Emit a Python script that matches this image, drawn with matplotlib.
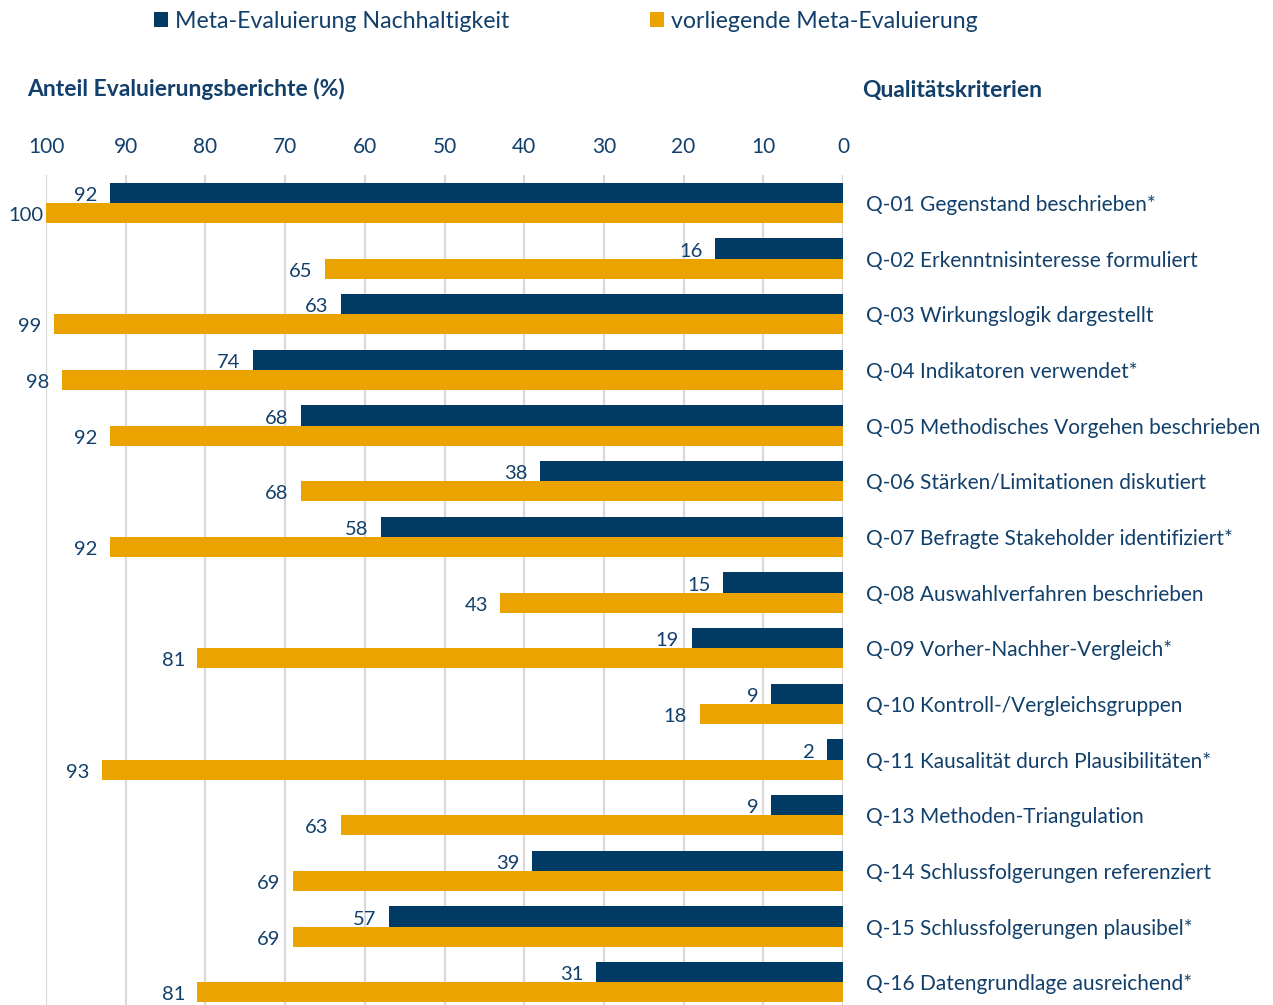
import matplotlib.pyplot as plt
import numpy as np

plt.rcParams['font.family'] = ['Lato', 'DejaVu Sans']

criteria = [
    'Q-01 Gegenstand beschrieben*',
    'Q-02 Erkenntnisinteresse formuliert',
    'Q-03 Wirkungslogik dargestellt',
    'Q-04 Indikatoren verwendet*',
    'Q-05 Methodisches Vorgehen beschrieben',
    'Q-06 Stärken/Limitationen diskutiert',
    'Q-07 Befragte Stakeholder identifiziert*',
    'Q-08 Auswahlverfahren beschrieben',
    'Q-09 Vorher-Nachher-Vergleich*',
    'Q-10 Kontroll-/Vergleichsgruppen',
    'Q-11 Kausalität durch Plausibilitäten*',
    'Q-13 Methoden-Triangulation',
    'Q-14 Schlussfolgerungen referenziert',
    'Q-15 Schlussfolgerungen plausibel*',
    'Q-16 Datengrundlage ausreichend*',
]
nachhaltigkeit = [92, 16, 63, 74, 68, 38, 58, 15, 19, 9, 2, 9, 39, 57, 31]
vorliegend = [100, 65, 99, 98, 92, 68, 92, 43, 81, 18, 93, 63, 69, 69, 81]
series_names = ['Meta-Evaluierung Nachhaltigkeit', 'vorliegende Meta-Evaluierung']
xticks = [100, 90, 80, 70, 60, 50, 40, 30, 20, 10, 0]

navy = '#013B63'
gold = '#EAA300'
txt = '#12406A'
W, H = 1273, 1005

fig = plt.figure(figsize=(W / 100, H / 100), dpi=100)
ax = fig.add_axes([46 / W, 0, (843 - 46) / W, (H - 175) / H])

y = np.arange(len(criteria))
bh = 0.36
b1 = ax.barh(y - bh / 2, nachhaltigkeit, height=bh, color=navy, label=series_names[0], zorder=3)
b2 = ax.barh(y + bh / 2, vorliegend, height=bh, color=gold, label=series_names[1], zorder=3)

for vals, offs in ((nachhaltigkeit, -bh / 2), (vorliegend, bh / 2)):
    for i, v in enumerate(vals):
        dx = -2 if v >= 100 else -9
        ax.annotate(str(v), xy=(v, i + offs), xytext=(dx, -2), textcoords='offset points',
                    ha='right', va='center', fontsize=14.5, color=txt, annotation_clip=False)

ax.set_xlim(100, 0)
ax.set_ylim(14.41, -0.5)
ax.set_xticks(xticks)
ax.xaxis.tick_top()
ax.tick_params(axis='x', length=0, pad=13, labelsize=15, labelcolor=txt)
ax.yaxis.tick_right()
ax.set_yticks(y)
ax.set_yticklabels(criteria)
ax.tick_params(axis='y', length=0, pad=16.5, labelsize=15, labelcolor=txt)
ax.grid(axis='x', color='#D9D9D9', linewidth=1.6, zorder=0)
for s in ax.spines.values():
    s.set_visible(False)

fig.text(27 / W, 1 - 89 / H, 'Anteil Evaluierungsberichte (%)', fontsize=16.5,
         fontweight='bold', color=txt, ha='left', va='center')
fig.text(862 / W, 1 - 91 / H, 'Qualitätskriterien', fontsize=16.5,
         fontweight='bold', color=txt, ha='left', va='center')

fig.legend(handles=[b1, b2], labels=series_names, loc='center', bbox_to_anchor=(566 / W, 1 - 21 / H),
           ncol=2, frameon=False, fontsize=16.7, labelcolor=txt, handlelength=0.6, handleheight=0.6,
           handletextpad=0.3, columnspacing=6.1)

fig.savefig('out.png', dpi=100)
